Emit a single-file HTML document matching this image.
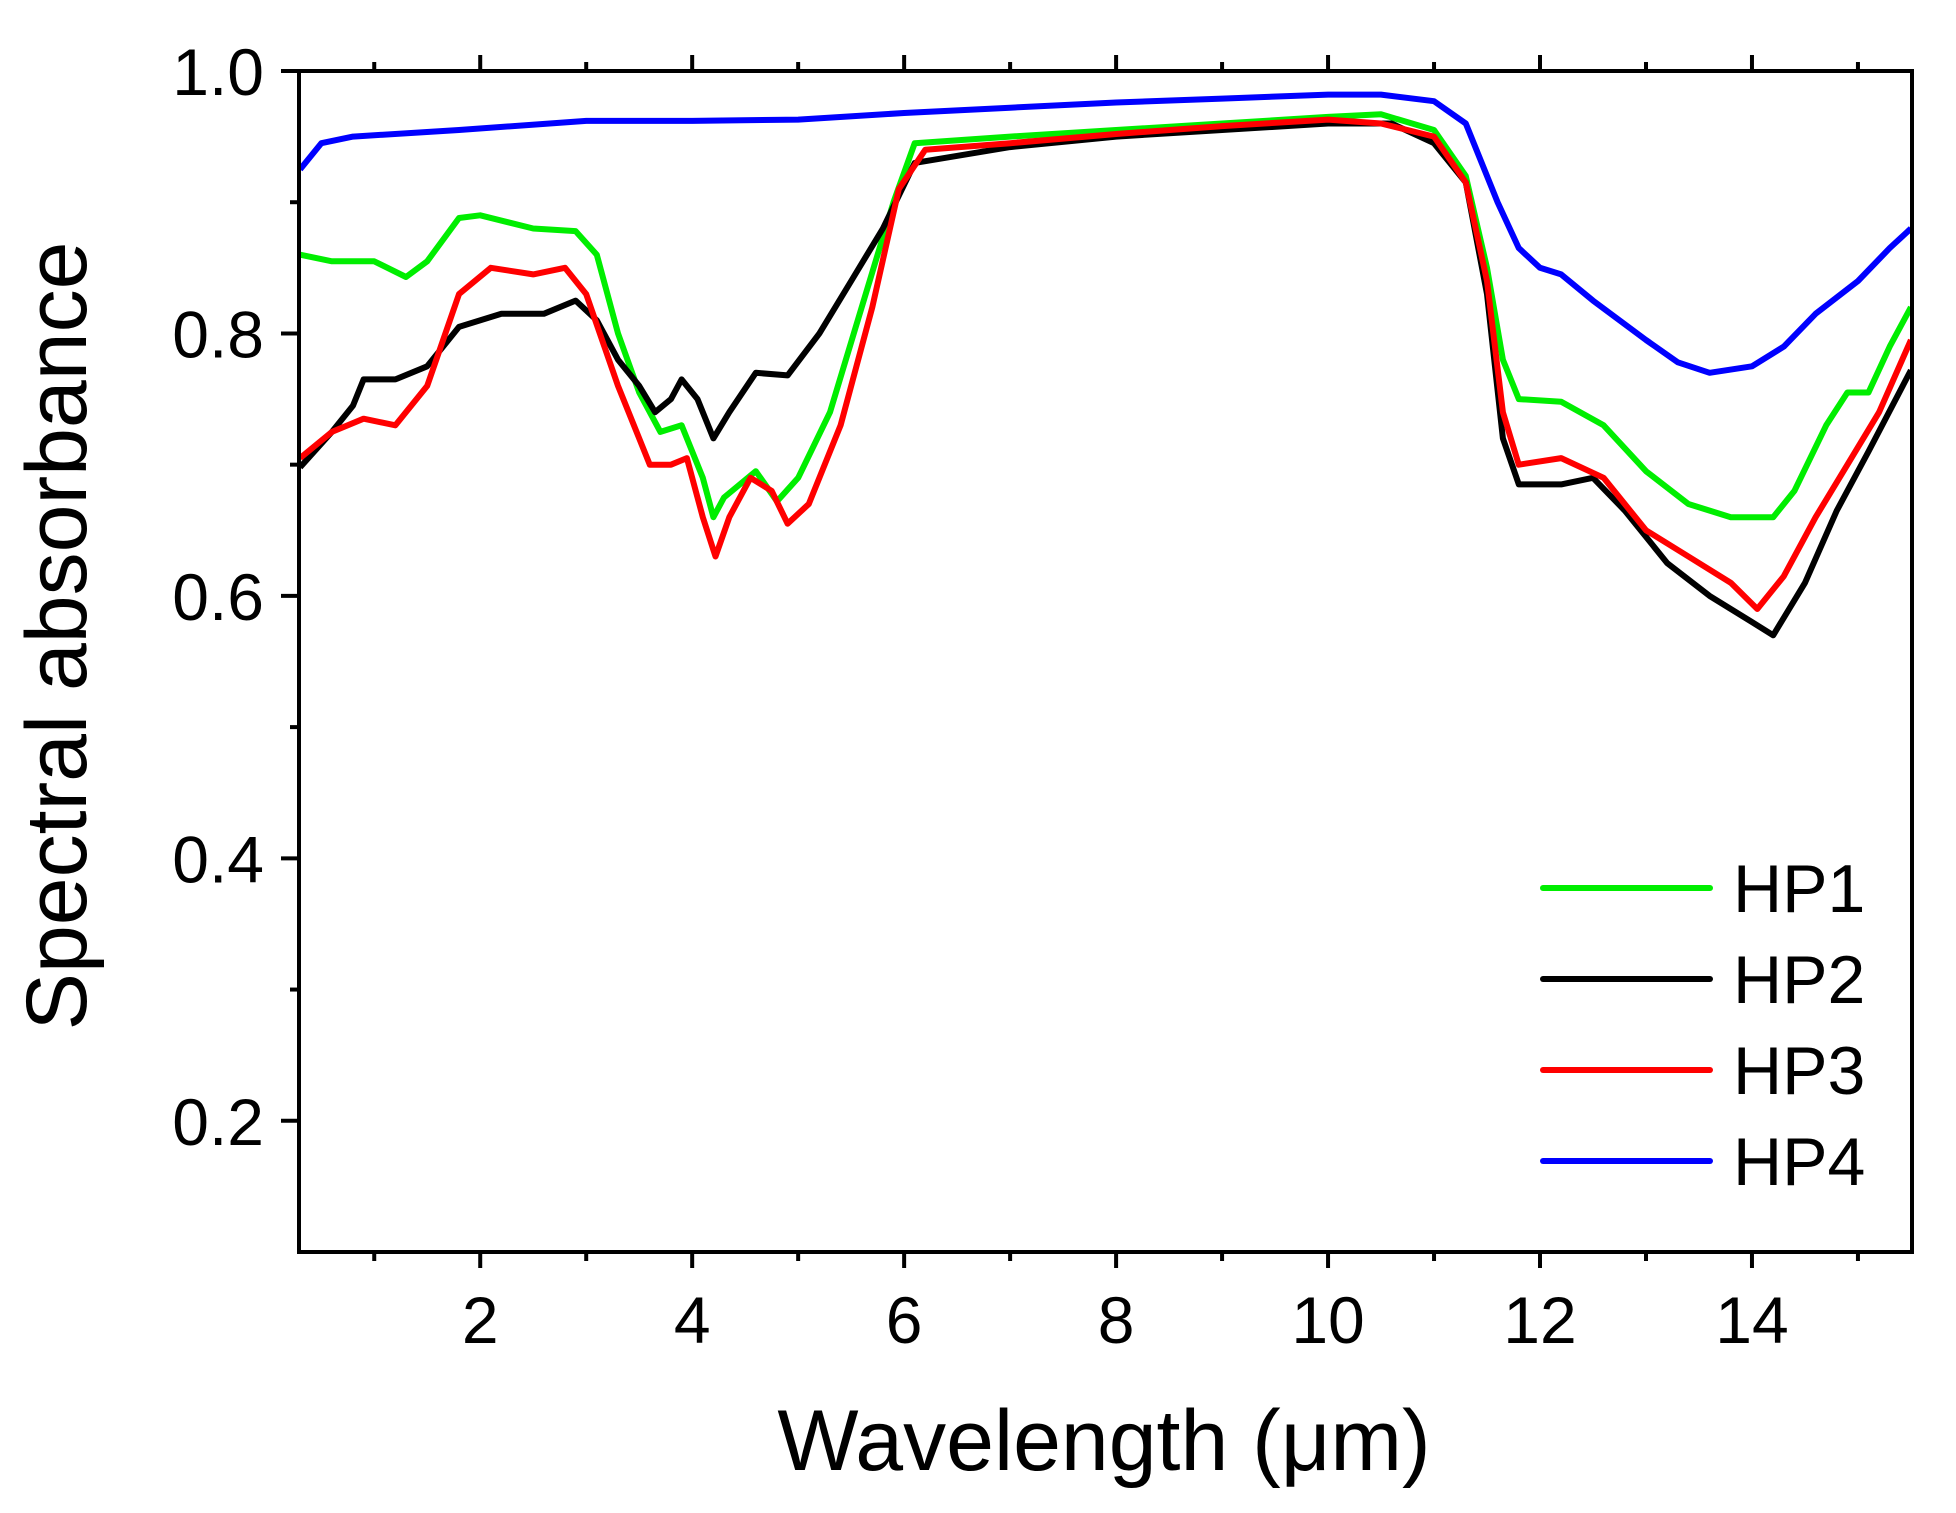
<!DOCTYPE html>
<html><head><meta charset="utf-8"><style>
body{margin:0;background:#fff}
svg text{font-family:"Liberation Sans",Arial,sans-serif;fill:#000}
</style></head><body>
<svg id="chart" width="1956" height="1508" viewBox="0 0 1956 1508" xmlns="http://www.w3.org/2000/svg">
<g id="series"></g>
<g id="axes"></g>
<g id="legend"></g>
<text x="1104" y="1470" font-size="86" text-anchor="middle">Wavelength (μm)</text>
<text transform="translate(86,636) rotate(-90)" font-size="86" text-anchor="middle">Spectral absorbance</text>
</svg>
<script>
const xTicks=[2,4,6,8,10,12,14];
const yTicks=[0.2,0.4,0.6,0.8,1.0];
const yTickLabels=["0.2","0.4","0.6","0.8","1.0"];
const seriesNames=["HP1","HP2","HP3","HP4"];
const seriesColors=["#00ee00","#000000","#ff0000","#0000ff"];
const hp1X=[0.3,0.6,1,1.3,1.5,1.8,2,2.5,2.9,3.1,3.3,3.5,3.7,3.9,4.1,4.2,4.3,4.6,4.8,5.0,5.3,5.6,5.9,6.1,7,8,9,10,10.5,11,11.3,11.5,11.65,11.8,12.2,12.6,13,13.4,13.8,14.2,14.4,14.7,14.9,15.1,15.3,15.5];
const hp1Y=[0.86,0.855,0.855,0.843,0.855,0.888,0.89,0.88,0.878,0.86,0.8,0.755,0.725,0.73,0.69,0.66,0.675,0.695,0.672,0.69,0.74,0.82,0.9,0.945,0.95,0.955,0.96,0.965,0.967,0.955,0.92,0.85,0.78,0.75,0.748,0.73,0.695,0.67,0.66,0.66,0.68,0.73,0.755,0.755,0.79,0.82];
const hp2X=[0.3,0.6,0.8,0.9,1.2,1.5,1.8,2.2,2.6,2.9,3.1,3.3,3.5,3.65,3.8,3.9,4.05,4.2,4.35,4.6,4.9,5.2,5.5,5.8,6.1,7,8,9,10,10.6,11,11.3,11.5,11.65,11.8,12.2,12.5,12.8,13.2,13.6,14,14.2,14.5,14.8,15.1,15.5];
const hp2Y=[0.698,0.725,0.745,0.765,0.765,0.775,0.805,0.815,0.815,0.825,0.81,0.78,0.76,0.74,0.75,0.765,0.75,0.72,0.74,0.77,0.768,0.8,0.84,0.88,0.93,0.942,0.95,0.955,0.96,0.96,0.945,0.915,0.83,0.72,0.685,0.685,0.69,0.665,0.625,0.6,0.58,0.57,0.61,0.665,0.71,0.772];
const hp3X=[0.3,0.6,0.9,1.2,1.5,1.8,2.1,2.5,2.8,3.0,3.3,3.6,3.8,3.95,4.1,4.22,4.35,4.55,4.75,4.9,5.1,5.4,5.7,5.95,6.2,7,8,9,10,10.5,11,11.3,11.5,11.65,11.8,12.2,12.6,13,13.4,13.8,14.05,14.3,14.6,14.9,15.2,15.5];
const hp3Y=[0.705,0.725,0.735,0.73,0.76,0.83,0.85,0.845,0.85,0.83,0.76,0.7,0.7,0.705,0.66,0.63,0.66,0.69,0.68,0.655,0.67,0.73,0.82,0.91,0.94,0.945,0.952,0.958,0.963,0.96,0.95,0.915,0.84,0.74,0.7,0.705,0.69,0.65,0.63,0.61,0.59,0.615,0.66,0.7,0.74,0.795];
const hp4X=[0.3,0.5,0.8,1.8,3,4,5,6,7,8,9,10,10.5,11,11.3,11.6,11.8,12,12.2,12.5,13,13.3,13.6,14,14.3,14.6,15,15.3,15.5];
const hp4Y=[0.925,0.945,0.95,0.955,0.962,0.962,0.963,0.968,0.972,0.976,0.979,0.982,0.982,0.977,0.96,0.9,0.865,0.85,0.845,0.825,0.795,0.778,0.77,0.775,0.79,0.815,0.84,0.865,0.88];

const NS="http://www.w3.org/2000/svg";
const L=299,R=1912,T=71,B=1252;
const xMin=0.29,xMax=15.51,yMin=0.1,yMax=1.0;
function sx(v){return L+(v-xMin)/(xMax-xMin)*(R-L);}
function sy(v){return B-(v-yMin)/(yMax-yMin)*(B-T);}
function mk(tag,attrs,parent){const e=document.createElementNS(NS,tag);for(const k in attrs)e.setAttribute(k,attrs[k]);parent.appendChild(e);return e;}

const sg=document.getElementById('series');
const allX=[hp1X,hp2X,hp3X,hp4X],allY=[hp1Y,hp2Y,hp3Y,hp4Y];
[0,1,3,2].forEach(i=>{
  let d='';allX[i].forEach((x,j)=>{d+=(j?'L':'M')+sx(x).toFixed(1)+','+sy(allY[i][j]).toFixed(1);});
  const p=mk('path',{d:d,fill:'none',stroke:seriesColors[i],'stroke-width':6,'stroke-linejoin':'round'},sg);
  
  
});

const ag=document.getElementById('axes');
const frame=mk('path',{d:`M${L},${T}H${R}V${B}H${L}Z`,fill:'none',stroke:'#000','stroke-width':4},ag);


for(let v=1;v<=15;v++){
  const x=sx(v),major=v%2===0,len=major?16:9;
  const t=mk('line',{x1:x,x2:x,y1:B,y2:B+len,stroke:'#000','stroke-width':4},ag);
  
  
  const t2=mk('line',{x1:x,x2:x,y1:T,y2:T-len,stroke:'#000','stroke-width':4},ag);
  
  
}
xTicks.forEach(v=>{
  const t=mk('text',{x:sx(v),y:1343,'font-size':66,'text-anchor':'middle'},ag);t.textContent=v;
  
  
});
for(let k=2;k<=10;k++){
  const v=k/10,y=sy(v),major=k%2===0,len=major?18:9;
  const t=mk('line',{x1:L-len,x2:L,y1:y,y2:y,stroke:'#000','stroke-width':4},ag);
  
  
}
yTicks.forEach((v,i)=>{
  const t=mk('text',{x:264,y:sy(v)+24,'font-size':66,'text-anchor':'end'},ag);t.textContent=yTickLabels[i];
  
  
});

const lg=document.getElementById('legend');
seriesNames.forEach((n,i)=>{
  const y=888+i*91;
  const g=mk('g',{},lg);
  
  
  mk('line',{x1:1543,x2:1710,y1:y,y2:y,stroke:seriesColors[i],'stroke-width':6,'stroke-linecap':'round'},g);
  const t=mk('text',{x:1733,y:y+24,'font-size':68},g);t.textContent=n;
});
</script>
</body></html>
